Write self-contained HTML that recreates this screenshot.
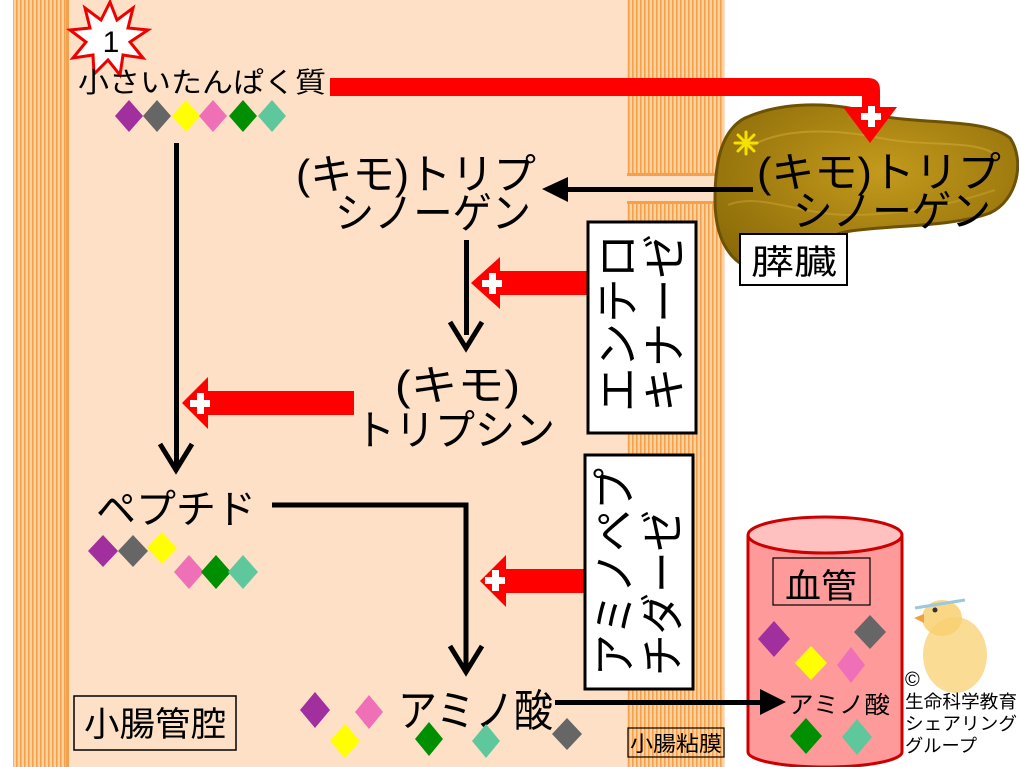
<!DOCTYPE html>
<html><head><meta charset="utf-8"><style>
html,body{margin:0;padding:0;background:#fff;}
svg{display:block;}
text{font-family:"Liberation Sans","Noto Sans CJK JP",sans-serif;fill:#000;}
</style></head><body>
<svg width="1019" height="767" viewBox="0 0 1019 767" xmlns="http://www.w3.org/2000/svg">
<defs>
<pattern id="st" width="4" height="10" patternUnits="userSpaceOnUse">
<rect width="4" height="10" fill="#fcd3a0"/><rect x="0" width="1.6" height="10" fill="#f5a04a"/>
</pattern>
<radialGradient id="pg" cx="0.55" cy="0.4" r="0.7">
<stop offset="0" stop-color="#c49a1c"/><stop offset="1" stop-color="#8a6a08"/>
</radialGradient>
</defs>
<rect x="0" y="0" width="1019" height="767" fill="#fff"/>
<rect x="13" y="0" width="54" height="767" fill="url(#st)"/>
<rect x="66" y="0" width="3" height="767" fill="#f5a04a"/>
<rect x="69" y="0" width="656" height="767" fill="#fde0c6"/>
<rect x="627" y="0" width="97" height="175" fill="url(#st)"/>
<rect x="627" y="173" width="97" height="3" fill="#f5a04a"/>
<rect x="627" y="202" width="97" height="565" fill="url(#st)"/>
<rect x="627" y="201" width="97" height="3" fill="#f5a04a"/>

<!-- pancreas -->
<path d="M745,118 C785,100 840,102 875,115 C925,125 985,118 1010,138 C1025,160 1018,200 990,213 C950,228 880,225 845,232 C815,238 800,270 775,272 C740,275 715,250 715,200 C715,160 722,130 745,118 Z" fill="url(#pg)" stroke="#6e5204" stroke-width="3"/>
<path d="M745,150 C780,125 840,130 880,138 C930,148 980,138 1000,158" fill="none" stroke="#d4ad3a" stroke-width="2" opacity="0.5"/>
<path d="M728,205 C760,192 800,215 850,215 C900,215 950,205 995,190" fill="none" stroke="#d4ad3a" stroke-width="2" opacity="0.4"/>

<!-- star -->
<polygon points="110,2 117,20 133,8 128,28 148,30 130,42 143,58 123,55 120,75 108,60 94,74 93,55 73,58 86,42 70,30 90,28 85,8 101,20" fill="#fff" stroke="#e00" stroke-width="3"/>
<text x="111" y="52" font-size="30" text-anchor="middle">1</text>

<text x="78" y="92" font-size="28" textLength="248" lengthAdjust="spacingAndGlyphs">小さいたんぱく質</text>

<g>
<polygon points="129,100 143,116 129,132 115,116" fill="#a12f9e"/>
<polygon points="157,100 171,116 157,132 143,116" fill="#666"/>
<polygon points="186,100 200,116 186,132 172,116" fill="#ffff00"/>
<polygon points="213,100 227,116 213,132 199,116" fill="#f070b8"/>
<polygon points="243,100 257,116 243,132 229,116" fill="#008f00"/>
<polygon points="272,100 286,116 272,132 258,116" fill="#5ec89c"/>
</g>

<path d="M330,78 H868 Q880,78 880,90 V108 H862 V96 H330 Z" fill="#f00"/>
<polygon points="843,107 897,107 870,143" fill="#f00"/>
<rect x="861" y="113" width="20" height="7" fill="#fff"/><rect x="868" y="106" width="7" height="21" fill="#fff"/>

<!-- asterisk -->
<g stroke="#f5e000" stroke-width="3" stroke-linecap="round">
<line x1="746" y1="132" x2="746" y2="154"/><line x1="735" y1="143" x2="757" y2="143"/>
<line x1="738" y1="135" x2="754" y2="151"/><line x1="754" y1="135" x2="738" y2="151"/>
</g>
<text x="757" y="187" font-size="42" textLength="244" lengthAdjust="spacingAndGlyphs">(キモ)トリプ</text>
<text x="793" y="226" font-size="42" textLength="198" lengthAdjust="spacingAndGlyphs">シノーゲン</text>
<rect x="740" y="234" width="107" height="51" fill="#fff" stroke="#000" stroke-width="2"/>
<text x="751" y="274" font-size="34" textLength="86" lengthAdjust="spacingAndGlyphs">膵臓</text>

<rect x="565" y="187" width="188" height="5" fill="#000"/>
<polygon points="542,189 568,177 568,202" fill="#000"/>

<text x="296" y="189" font-size="42" textLength="240" lengthAdjust="spacingAndGlyphs">(キモ)トリプ</text>
<text x="335" y="228" font-size="42" textLength="196" lengthAdjust="spacingAndGlyphs">シノーゲン</text>

<rect x="464" y="240" width="5" height="95" fill="#000"/>
<polyline points="450,322 466,348 482,322" fill="none" stroke="#000" stroke-width="5"/>

<rect x="500" y="271" width="88" height="24" fill="#f00"/>
<polygon points="471,283 500,257 500,309" fill="#f00"/>
<rect x="482" y="280" width="20" height="7" fill="#fff"/><rect x="489" y="273" width="7" height="21" fill="#fff"/>

<rect x="588" y="222" width="108" height="211" fill="#fff" stroke="#000" stroke-width="3"/>
<text transform="translate(633,412) rotate(-90)" font-size="44" textLength="178" lengthAdjust="spacingAndGlyphs">エンテロ</text>
<text transform="translate(680,412) rotate(-90)" font-size="44" textLength="178" lengthAdjust="spacingAndGlyphs">キナーゼ</text>

<text x="395" y="400" font-size="42" textLength="125" lengthAdjust="spacingAndGlyphs">(キモ)</text>
<text x="355" y="445" font-size="42" textLength="200" lengthAdjust="spacingAndGlyphs">トリプシン</text>

<rect x="208" y="391" width="146" height="24" fill="#f00"/>
<polygon points="182,403 208,377 208,429" fill="#f00"/>
<rect x="190" y="400" width="20" height="7" fill="#fff"/><rect x="197" y="393" width="7" height="21" fill="#fff"/>

<rect x="174" y="143" width="5" height="322" fill="#000"/>
<polyline points="160,444 176,470 192,444" fill="none" stroke="#000" stroke-width="5"/>

<text x="96" y="523" font-size="40" textLength="160" lengthAdjust="spacingAndGlyphs">ペプチド</text>
<polygon points="103,535 118,551 103,567 88,551" fill="#a12f9e"/>
<polygon points="133,535 148,551 133,567 118,551" fill="#666"/>
<polygon points="162,532 177,548 162,564 147,548" fill="#ffff00"/>
<polygon points="189,555 204,572 189,589 174,572" fill="#f070b8"/>
<polygon points="216,555 231,572 216,589 201,572" fill="#008f00"/>
<polygon points="243,555 258,572 243,589 228,572" fill="#5ec89c"/>

<polyline points="272,505 466,505 466,668" fill="none" stroke="#000" stroke-width="5"/>
<polyline points="450,646 466,672 482,646" fill="none" stroke="#000" stroke-width="5"/>

<rect x="506" y="569" width="79" height="24" fill="#f00"/>
<polygon points="480,581 506,555 506,607" fill="#f00"/>
<rect x="485" y="577" width="20" height="7" fill="#fff"/><rect x="492" y="570" width="7" height="21" fill="#fff"/>

<rect x="585" y="455" width="108" height="234" fill="#fff" stroke="#000" stroke-width="3"/>
<text transform="translate(630,676) rotate(-90)" font-size="44" textLength="208" lengthAdjust="spacingAndGlyphs">アミノペプ</text>
<text transform="translate(678,676) rotate(-90)" font-size="44" textLength="166" lengthAdjust="spacingAndGlyphs">チダーゼ</text>

<text x="398" y="726" font-size="44" textLength="155" lengthAdjust="spacingAndGlyphs">アミノ酸</text>
<polygon points="315,692 330,710 315,728 300,710" fill="#a12f9e"/>
<polygon points="369,695 383,712 369,729 355,712" fill="#f070b8"/>
<polygon points="345,724 360,741 345,758 330,741" fill="#ffff00"/>
<polygon points="429,722 443,739 429,756 415,739" fill="#008f00"/>
<polygon points="486,724 500,741 486,758 472,741" fill="#5ec89c"/>
<polygon points="567,718 582,734 567,750 552,734" fill="#666"/>

<rect x="74" y="696" width="162" height="54" fill="none" stroke="#000" stroke-width="1.5"/>
<text x="84" y="736" font-size="34" textLength="142" lengthAdjust="spacingAndGlyphs">小腸管腔</text>

<rect x="628" y="728" width="96" height="29" fill="none" stroke="#000" stroke-width="1.2"/>
<text x="630" y="751" font-size="21" textLength="92" lengthAdjust="spacingAndGlyphs">小腸粘膜</text>

<!-- vessel -->
<path d="M748,535 V752 A77,15 0 0 0 902,752 V535" fill="#ff9a9a" stroke="#c00" stroke-width="3"/>
<ellipse cx="825" cy="535" rx="77" ry="18" fill="#ffc0c0" stroke="#c00" stroke-width="3"/>
<rect x="773" y="558" width="97" height="47" fill="none" stroke="#000" stroke-width="1.2"/>
<text x="785" y="598" font-size="34" textLength="72" lengthAdjust="spacingAndGlyphs">血管</text>
<polygon points="774,621 790,639 774,657 758,639" fill="#a12f9e"/>
<polygon points="870,615 886,632 870,649 854,632" fill="#666"/>
<polygon points="811,646 827,663 811,680 795,663" fill="#ffff00"/>
<polygon points="851,647 865,665 851,683 837,665" fill="#f070b8"/>
<polygon points="806,718 822,736 806,754 790,736" fill="#008f00"/>
<polygon points="857,719 872,737 857,755 842,737" fill="#5ec89c"/>
<text x="788" y="713" font-size="24" textLength="102" lengthAdjust="spacingAndGlyphs">アミノ酸</text>

<!-- amino acid -> blood line (on top) -->
<rect x="555" y="700" width="210" height="5" fill="#000"/>
<polygon points="786,702 760,689 760,715" fill="#000"/>

<!-- chick -->
<ellipse cx="955" cy="655" rx="32" ry="38" fill="#f8d070" opacity="0.75"/>
<ellipse cx="942" cy="618" rx="20" ry="18" fill="#f8d070" opacity="0.85"/>
<circle cx="935" cy="610" r="2.5" fill="#333"/>
<polygon points="924,614 914,618 924,623" fill="#f0a040"/>
<line x1="915" y1="608" x2="965" y2="600" stroke="#9cc8e0" stroke-width="3"/>

<text x="905" y="686" font-size="20">©</text>
<text x="905" y="708" font-size="18" textLength="112" lengthAdjust="spacingAndGlyphs">生命科学教育</text>
<text x="905" y="730" font-size="18" textLength="112" lengthAdjust="spacingAndGlyphs">シェアリング</text>
<text x="905" y="752" font-size="18" textLength="72" lengthAdjust="spacingAndGlyphs">グループ</text>
</svg>
</body></html>
